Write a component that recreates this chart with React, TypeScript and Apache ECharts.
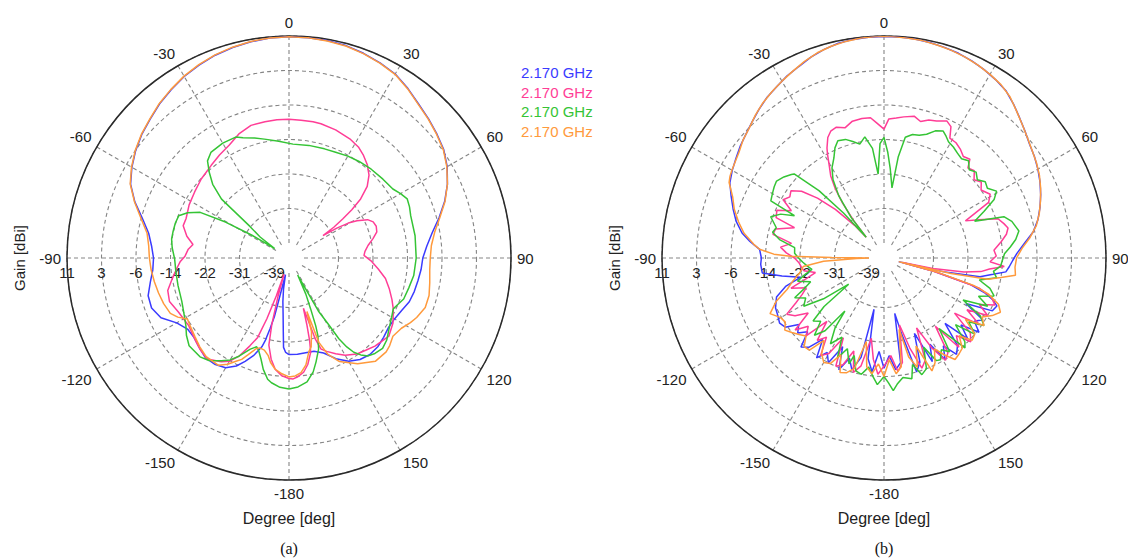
import React, { useEffect, useRef } from 'react';
import * as echarts from 'echarts';

type Pt = [number, number]; // [angle in degrees, gain in dBi]

const GAIN_MIN = -39;
const GAIN_MAX = 11;
const GAIN_STEPS = 6;
const ANGLE_STEP = 30;

const LEGEND_LABELS = ['2.170 GHz', '2.170 GHz', '2.170 GHz', '2.170 GHz'];
const SERIES_COLORS = ['#3b3bff', '#ff3d96', '#35c435', '#ff9a3c'];
const PANEL_TAGS = ['(a)', '(b)'];

// ---------- panel (a) ----------
const blueA: Pt[] = [[-180,-19.3],[-178,-19.8],[-176.5,-21],[-175.5,-25],[-174,-29],[-172,-32],[-170,-35],[-168,-38.5],[-166.5,-33],[-166,-28],[-165,-25],[-164,-22],[-163,-20.2],[-160,-17.5],[-157,-15.5],[-154,-13.6],[-150,-12],[-145,-11.3],[-140,-11.2],[-135,-12],[-130,-12.7],[-125,-12.7],[-120,-11.3],[-115,-8.5],[-110,-7.3],[-105,-7.4],[-100,-8.6],[-95,-9.6],[-90,-9.9],[-85,-9.3],[-80,-8.2],[-75,-6],[-70,-3],[-65,-0.4],[-60,1.2],[-55,2.6],[-50,3.8],[-45,4.8],[-40,6],[-35,7],[-30,8],[-25,8.8],[-20,9.5],[-15,10],[-10,10.4],[-5,10.7],[0,10.8],[5,10.8],[10,10.7],[15,10.5],[20,10],[25,9.4],[30,8.7],[35,7.4],[40,6],[45,5],[50,4],[55,3],[60,1.5],[65,-0.4],[70,-2.6],[75,-5.1],[80,-7.5],[85,-9.2],[90,-10.3],[95,-10.6],[100,-11],[105,-11.3],[110,-11.7],[115,-12.6],[120,-13.2],[125,-13.3],[130,-12.8],[135,-12.3],[140,-12.2],[145,-12.7],[150,-13.8],[155,-15.8],[160,-18.2],[165,-19.3],[170,-19.4],[175,-19.3],[180,-19.3]];

const pinkA: Pt[] = [[-180,-13.5],[-176.6,-14.1],[-173,-15.5],[-170,-17.8],[-167,-21],[-165.5,-26],[-164,-33],[-163,-38.5],[-161.5,-33],[-160,-27],[-158.5,-22],[-156,-19.4],[-153,-16],[-150,-13.8],[-146.8,-12.7],[-141,-11.2],[-136,-11.8],[-132,-12.4],[-124,-13.4],[-116,-12.9],[-110,-11.9],[-105,-12.3],[-100,-14],[-95,-15.5],[-92,-16.3],[-89,-17.5],[-85,-18.2],[-82,-19.2],[-78,-17.4],[-73,-15.9],[-69,-16],[-62,-15.3],[-55,-14.8],[-48,-14.1],[-40,-13.4],[-34,-12.6],[-28,-11.8],[-22,-10.3],[-16,-9.3],[-10,-9.2],[-5,-9.1],[0,-9.1],[5,-9.2],[10,-9.2],[13.4,-9.3],[20,-9.7],[27,-10.3],[32,-11],[36,-12],[40,-13.2],[44,-14.8],[47.5,-17],[50.5,-20.2],[52.5,-23.5],[54,-26.6],[55.5,-29.5],[56.7,-32.8],[58,-29],[59.5,-26],[61.2,-23.9],[64,-21.5],[66.8,-20.5],[70,-20.2],[73.5,-20.5],[77,-21.8],[81,-23.3],[85,-24.2],[88,-24.5],[92,-22.8],[97,-20.9],[102,-18.8],[107,-17.3],[112,-15.8],[116,-14.6],[122,-13],[128,-12],[135.7,-12.9],[140,-13.6],[144.7,-14.2],[150,-15.5],[154,-16.9],[158,-18.3],[160.6,-19.3],[162,-22],[163,-27.3],[164,-30],[165,-26],[166,-22],[167,-19.3],[170,-16.5],[172.7,-14.8],[176,-13.8],[178,-13.4],[180,-13.5]];

const greenA: Pt[] = [[-180,-11],[-176,-11.3],[-172,-12.2],[-170,-12.9],[-167,-15],[-164.5,-17.3],[-162,-19],[-160,-19.8],[-157,-18.7],[-153,-16],[-150,-14.2],[-146.6,-12.9],[-142,-11.2],[-138,-10.5],[-131.3,-10.5],[-127,-11.6],[-123.4,-12.8],[-118,-13.9],[-112,-14.7],[-104,-15],[-97,-15.1],[-90.5,-15],[-85,-14.3],[-80.8,-13.9],[-77.4,-13.9],[-73,-13.9],[-69,-14.1],[-66,-15.8],[-62.8,-18.5],[-60.5,-25],[-58.5,-32],[-57,-38.5],[-54,-34],[-51,-30.4],[-49.5,-25],[-48.9,-21],[-46,-17],[-43,-14.4],[-40,-12],[-36.5,-10.9],[-30,-10.6],[-23.8,-10.7],[-20.9,-11.5],[-16,-12.5],[-11.7,-13.3],[-5,-14.3],[2,-15.1],[10,-15],[18,-14.9],[23.8,-14.7],[30,-14.2],[36,-13.8],[42.8,-13.4],[50,-13],[56.4,-12.5],[60,-11.5],[63.4,-10.7],[67,-11],[70.8,-11.5],[80,-11.7],[90,-11.9],[98,-12.2],[104,-12.8],[109.7,-13.2],[113,-14],[116,-14.6],[120,-14],[125.4,-13],[130,-11.8],[134,-11.2],[138,-11.6],[141,-12.2],[143.5,-13.5],[145.5,-15],[147,-17],[148.3,-19.7],[149.3,-24],[151,-28],[153,-38],[155,-33],[157,-29.2],[158.5,-25],[159.6,-22.6],[162,-19.5],[165.4,-16.7],[168,-14.5],[171.7,-12.4],[176,-11.4],[180,-11]];

const orangeA: Pt[] = [[-180,-13.9],[-176.5,-14.6],[-172.8,-15.6],[-170,-17],[-168,-18.5],[-165,-19.6],[-162,-19.8],[-160,-19.3],[-157,-17.2],[-155,-15.6],[-152.8,-14.6],[-150,-13],[-146.7,-11.6],[-140,-11.5],[-135,-12.2],[-130,-13],[-125,-13.6],[-121,-14],[-118,-12.2],[-115,-11],[-110,-10.4],[-105,-10],[-100,-9.6],[-95,-9.2],[-90,-8.9],[-85,-8.6],[-80,-7.8],[-75,-5.6],[-70,-2.9],[-65,-0.3],[-60,1.3],[-55,2.7],[-50,3.9],[-45,4.9],[-40,6.1],[-35,7.1],[-30,8.1],[-25,8.9],[-20,9.6],[-15,10.1],[-10,10.5],[-5,10.7],[0,10.8],[5,10.8],[10,10.6],[15,10.4],[20,9.9],[25,9.3],[30,8.6],[35,7.3],[40,5.9],[45,4.9],[50,3.9],[55,2.9],[60,1.4],[65,-0.4],[70,-2.5],[75,-4.9],[80,-6.9],[85,-8.1],[90,-8.5],[95,-8.5],[100,-8.1],[105,-7.6],[110,-7.6],[115,-8.6],[118,-9.4],[122,-10.6],[127,-11.2],[131,-10.4],[134,-10],[140,-10.1],[147,-12.2],[154,-14.8],[158,-17.5],[160.5,-21],[161.5,-29],[163,-24],[166,-20.5],[168,-19.5],[171,-16.5],[174,-14.8],[177,-14.1],[180,-13.9]];

// ---------- panel (b) ----------
const blueB: Pt[] = [[-180,-16],[-177,-20],[-174,-15],[-171,-18],[-169,-30],[-167,-18],[-164,-14.5],[-161,-17],[-158,-13.5],[-155,-19],[-152,-14],[-149,-16],[-146,-13.5],[-143,-18],[-140,-14.5],[-137,-13.2],[-134,-17],[-131,-15],[-128,-16.5],[-125,-13.5],[-122,-12.9],[-118,-13.5],[-114.6,-13.8],[-110,-15],[-106,-18],[-103,-22],[-100,-17.6],[-97,-13],[-93,-12.8],[-90,-13],[-86,-12.5],[-83,-10],[-80,-7.8],[-76,-5.8],[-72,-4.3],[-68,-2.8],[-64,-1.2],[-60,-0.3],[-56,0.5],[-52,1.4],[-48,2.2],[-44,3.2],[-40,4.3],[-36,5.4],[-32,6.2],[-28,7.2],[-24,8],[-20,9],[-16,9.8],[-12,10.4],[-8,10.7],[-4,10.8],[0,10.9],[4,10.9],[8,10.8],[12,10.6],[16,10.3],[20,10],[24,9.5],[28,8.9],[32,8.2],[36,7.4],[40,6],[44,4.5],[48,3.2],[52,2],[56,1.2],[60,0.3],[64,-0.7],[68,-1.8],[72,-3],[76,-4.3],[80,-6],[84,-8.5],[88,-10.5],[91,-11.5],[94,-12.3],[96.5,-13],[98.5,-16],[101,-19],[103,-28],[104,-39],[105,-30],[107,-21],[109,-17],[111,-14.5],[113,-13],[116,-13.5],[119,-20],[122,-14.5],[125,-16],[128,-13.5],[131,-18],[134,-14.5],[137,-21],[140,-15],[143,-13.5],[146,-17],[149,-14],[152,-19],[155,-15],[158,-23],[161,-16],[164,-14],[167,-24],[169,-29],[171,-17],[174,-15.5],[177,-19],[180,-16]];

const pinkB: Pt[] = [[-180,-16.5],[-177,-14.5],[-174,-18],[-171,-23],[-168,-16],[-165,-14],[-162,-19],[-159,-15],[-156,-14],[-153,-21],[-150,-16],[-147,-14.5],[-144,-19],[-141,-17],[-138,-22],[-135,-16],[-132,-18],[-129,-15],[-126,-20],[-123,-17],[-120,-15.5],[-117,-18.7],[-114,-21],[-111,-22.5],[-108,-19],[-105,-23],[-102,-25.7],[-99,-23],[-96,-22.5],[-93,-22],[-90,-21],[-87,-19],[-84,-17.5],[-81,-20],[-78,-15.2],[-75,-15.5],[-71.3,-19.8],[-69.5,-14.8],[-66,-14.3],[-63,-17.5],[-60,-14.5],[-57,-15.5],[-54.2,-14.9],[-51,-17],[-48,-21],[-45,-26],[-42,-32],[-40.5,-36],[-39,-31],[-37,-26],[-35,-22],[-33,-19],[-30.4,-16.4],[-28.5,-14],[-27.4,-12.7],[-25,-10.5],[-22.8,-9.4],[-20,-9],[-16.7,-9.8],[-13,-8.7],[-9,-8.5],[-5.5,-8.6],[-3,-10],[0,-11.5],[2,-9],[5,-8.7],[8,-8.2],[12,-7.6],[15,-8.5],[18,-7.6],[21,-7.2],[24.6,-6.2],[27,-7],[28.8,-9.6],[32,-9.8],[35,-10.5],[38,-11.5],[41,-11],[43,-12.9],[46,-12.3],[49,-13.8],[52,-12.8],[55,-14],[59,-12.7],[62,-14],[65.5,-21],[68,-18],[71,-13.5],[74,-12.5],[76.4,-11.8],[79,-12.5],[82,-14],[86,-16],[89,-15.5],[92,-17],[94,-13.5],[96,-17],[98,-19],[100,-23],[102,-30],[103.5,-38],[105,-30],[107.5,-18.6],[110,-15],[113,-13.5],[116,-17],[119,-14],[122,-19],[125,-14.5],[128,-21],[131,-15],[134,-13.5],[137,-17],[140,-14.5],[143,-22],[146,-15],[149,-13.8],[152,-18],[155,-24],[158,-16],[161,-14.5],[164,-20],[167,-26],[170,-17],[173,-15],[176,-19],[180,-16.5]];

const greenB: Pt[] = [[-180,-14],[-177,-12],[-175,-13.6],[-172,-16],[-169,-14],[-166,-14.5],[-163,-18],[-161.7,-15.7],[-158,-19],[-155,-16],[-152,-21],[-148,-18.2],[-145,-22],[-143.6,-26.7],[-141,-20],[-138,-17.5],[-135,-21],[-131.6,-19.7],[-129,-24],[-126.6,-32],[-124,-25],[-121,-20],[-117,-21.4],[-114,-19],[-111,-22],[-108,-24],[-105,-21],[-102,-23],[-99,-25],[-96,-24],[-93,-23],[-90,-22],[-87,-21],[-83.4,-20.9],[-80,-17],[-77,-15],[-74.3,-15.6],[-70,-13.5],[-67,-15.5],[-64.7,-18.7],[-63.2,-12],[-60,-11.5],[-57,-11],[-54.4,-10.7],[-51,-11.5],[-48,-12.5],[-46.9,-12.9],[-44,-20],[-42,-28],[-40.5,-36],[-39,-30],[-36,-24],[-33,-20],[-30,-17.5],[-26.6,-15.6],[-24,-13.5],[-21.5,-12.2],[-18,-12.5],[-15,-13.5],[-12,-14.5],[-9,-13],[-6,-16],[-4,-22.3],[-2,-15],[0,-13.5],[2,-17],[4,-21],[6.5,-25.6],[8,-18],[10,-13],[13,-12],[16,-11.8],[19,-11],[22,-9.5],[25,-8.8],[27,-9.6],[29,-10.5],[32,-11],[35,-11.7],[38,-12.2],[41,-11.5],[44,-13],[47,-12.2],[50,-13.2],[53,-12],[56,-12.5],[59.3,-11],[62,-12.5],[65,-16],[68,-19],[71,-12],[74,-10.5],[78.7,-9.4],[82,-10.5],[85,-12],[88,-13.5],[91,-14],[94,-14.4],[97,-16],[100,-15],[103,-19],[106,-16],[109,-14.5],[112,-18],[115,-15],[118,-21],[121,-15.5],[124,-13.5],[127,-17],[130,-14],[133,-19],[136,-14.5],[138,-13.4],[142,-21],[145,-15],[148,-16.5],[151,-14.5],[153,-14.8],[156,-19],[159,-14],[162,-13],[165,-16],[167,-12.7],[171,-13.4],[174,-12],[176,-10.5],[178,-12.5],[180,-14]];

const orangeB: Pt[] = [[-180,-14],[-177,-17],[-174,-14.5],[-171,-16],[-168,-22],[-165,-15],[-162,-13.5],[-159,-13],[-156,-17],[-153,-14],[-150,-13.5],[-147,-15],[-144,-18],[-141,-14],[-138,-13.8],[-135,-16],[-132,-15],[-129,-14],[-126,-13],[-123,-14.2],[-120,-13.8],[-116,-12],[-112,-14.5],[-108,-18],[-104,-20],[-100,-22],[-96,-23],[-93,-28],[-91,-36],[-90,-39],[-89.5,-30],[-89,-20],[-88,-16],[-86,-12.5],[-84,-11],[-80,-8.3],[-76,-6.4],[-72,-4.6],[-68,-3.2],[-64,-1],[-62,-0.5],[-60,-0.2],[-57,0.2],[-54,0.7],[-50,1.8],[-46,2.6],[-42,3.8],[-38,4.9],[-34,5.8],[-30,6.7],[-26,7.6],[-22,8.6],[-18,9.5],[-14,10.1],[-10,10.5],[-6,10.8],[-2,10.9],[2,10.9],[6,10.8],[10,10.7],[14,10.4],[18,10.1],[22,9.7],[26,9.2],[30,8.6],[34,7.9],[38,6.8],[42,5.2],[46,3.8],[50,2.6],[54,1.6],[58,0.8],[62,-0.1],[66,-1.2],[70,-2.4],[74,-3.6],[78,-5],[82,-7],[86,-9.2],[90,-10.6],[94,-10.9],[97.5,-10.6],[99.5,-14],[101.5,-17],[103,-26],[104,-39],[105,-29],[107,-20],[109,-16],[112,-12.8],[115,-11.6],[118,-13],[121,-15],[124,-13.5],[127,-18],[130,-14],[133,-13.5],[136,-16.5],[139,-13.8],[142,-13.2],[145,-12.7],[148,-15],[151,-17.5],[154,-14.5],[157,-13],[160,-20],[163,-15],[166,-18],[168,-25],[171,-16],[174,-14.5],[177,-18],[180,-14]];

const PANELS: Pt[][][] = [
  [blueA, pinkA, greenA, orangeA],
  [blueB, pinkB, greenB, orangeB],
];

const CENTERS = [[289, 258], [884, 258]];
const INNER_R = 15;
const OUTER_R = 222;
const FONT = 'Arial, "Liberation Sans", Helvetica, sans-serif';
const TEXT_COLOR = '#222';
const GRID_COLOR = '#858585';
const GRID_DASH = [4, 3];

export default function App() {
  const ref = useRef<HTMLDivElement>(null);
  useEffect(() => {
    if (!ref.current) return;
    const chart = echarts.init(ref.current, undefined, { renderer: 'svg' });
    const span = GAIN_MAX - GAIN_MIN;
    const toData = (pts: Pt[]) =>
      pts.map(([ang, g]) => [Math.max(g, GAIN_MIN) - GAIN_MIN, ang < -90 ? ang + 360 : ang]);

    const polar = CENTERS.map((c) => ({ center: c, radius: [INNER_R, OUTER_R] }));
    const angleAxis = CENTERS.map((_, i) => ({
      polarIndex: i,
      type: 'value',
      min: -90,
      max: 270,
      interval: ANGLE_STEP,
      startAngle: 180,
      clockwise: true,
      axisLine: { show: false },
      axisTick: { show: false },
      axisLabel: {
        show: true,
        margin: 6,
        color: TEXT_COLOR,
        fontSize: 15,
        fontFamily: FONT,
        formatter: (v: number) => (v === 270 ? '' : String(v >= 180 ? v - 360 : v)),
      },
      splitLine: { show: true, lineStyle: { color: GRID_COLOR, width: 1.1, type: GRID_DASH } },
    }));
    const ringColors = ['rgba(0,0,0,0)'];
    for (let k = 0; k < GAIN_STEPS; k++) ringColors.push(GRID_COLOR);
    const radiusAxis = CENTERS.map((_, i) => ({
      polarIndex: i,
      type: 'value',
      min: 0,
      max: span,
      interval: span / GAIN_STEPS,
      axisLine: { show: false },
      axisTick: { show: false },
      axisLabel: {
        show: true,
        margin: 7,
        color: TEXT_COLOR,
        fontSize: 15,
        fontFamily: FONT,
        showMinLabel: true,
        showMaxLabel: true,
        formatter: (v: number) => String(Math.round(v + GAIN_MIN)),
      },
      splitLine: { show: true, lineStyle: { color: ringColors, width: 1.1, type: GRID_DASH } },
    }));

    const series: any[] = [];
    PANELS.forEach((panel, p) => {
      panel.forEach((pts, s) => {
        series.push({
          type: 'line',
          coordinateSystem: 'polar',
          polarIndex: p,
          name: LEGEND_LABELS[s] + ' ' + p + s,
          data: toData(pts),
          showSymbol: false,
          symbol: 'none',
          smooth: false,
          lineStyle: { color: SERIES_COLORS[s], width: 1.5 },
          itemStyle: { color: SERIES_COLORS[s] },
          z: 3,
        });
      });
    });

    const graphic: any[] = [];
    LEGEND_LABELS.forEach((t, i) => {
      graphic.push({
        type: 'text',
        left: 521,
        top: 65 + i * 19.5,
        style: { text: t, fill: SERIES_COLORS[i], font: `15px ${FONT}` },
      });
    });
    CENTERS.forEach(([cx, cy], i) => {
      graphic.push({
        type: 'circle',
        silent: true,
        z: 1,
        shape: { cx, cy, r: OUTER_R },
        style: { fill: 'none', stroke: '#2a2a2a', lineWidth: 1.5 },
      });
      graphic.push({
        type: 'text',
        x: cx - OUTER_R - 48,
        y: cy,
        rotation: Math.PI / 2,
        style: {
          text: 'Gain [dBi]',
          fill: TEXT_COLOR,
          font: `15px ${FONT}`,
          align: 'center',
          verticalAlign: 'middle',
        },
      });
      graphic.push({
        type: 'text',
        x: cx,
        y: 518,
        style: {
          text: 'Degree [deg]',
          fill: TEXT_COLOR,
          font: `16px ${FONT}`,
          align: 'center',
          verticalAlign: 'middle',
        },
      });
      graphic.push({
        type: 'text',
        x: cx,
        y: 548,
        style: {
          text: PANEL_TAGS[i],
          fill: '#111',
          font: '16px "Liberation Serif", "Times New Roman", serif',
          align: 'center',
          verticalAlign: 'middle',
        },
      });
    });

    chart.setOption({
      animation: false,
      backgroundColor: '#ffffff',
      polar,
      angleAxis,
      radiusAxis,
      series,
      graphic,
    });
    return () => chart.dispose();
  }, []);

  return (
    <div
      ref={ref}
      style={{ position: 'absolute', left: 0, top: 0, width: 1128, height: 558, background: '#fff' }}
    />
  );
}
